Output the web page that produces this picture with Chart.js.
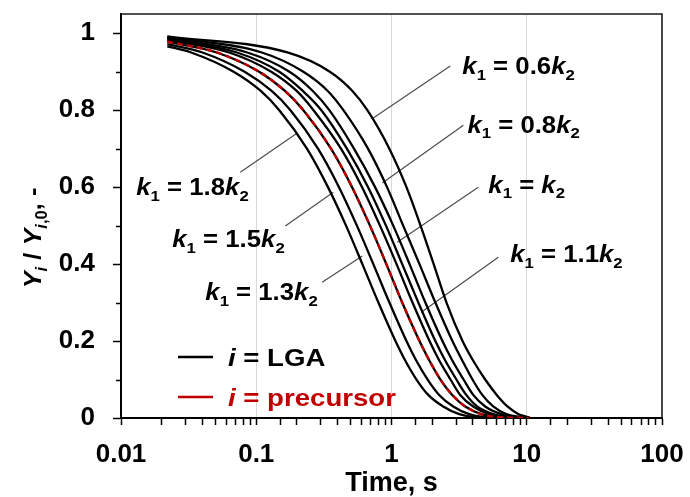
<!DOCTYPE html>
<html>
<head>
<meta charset="utf-8">
<script src="https://cdn.jsdelivr.net/npm/chart.js@4.4.1/dist/chart.umd.min.js"></script>
<style>
  html, body { margin: 0; padding: 0; background: #ffffff; }
  #wrap { width: 690px; height: 497px; }
</style>
</head>
<body>
<div id="wrap"><canvas id="chart" width="690" height="497"></canvas></div>
<script>
// Normalised remaining fraction Y_i / Y_i,0 against residence time (log scale).
// Each curve is stored as the times at which it passes the shared fraction levels,
// plus its value at the first sampled time and the final time where it reaches zero.
const levels = [0.95, 0.9, 0.85, 0.8, 0.7, 0.6, 0.5, 0.4, 0.3, 0.2, 0.15, 0.1, 0.06, 0.03, 0.01, 0.003];
const firstTime = 0.022;
const lastTime = 10.5;

// LGA curves, fastest decay first
const lgaFast1Times = [0.033, 0.068, 0.108, 0.148, 0.237, 0.339, 0.461, 0.609, 0.800, 1.07, 1.26, 1.53, 1.87, 2.41, 3.17, 4.00];
const lgaFast2Times = [0.040, 0.082, 0.130, 0.179, 0.286, 0.409, 0.555, 0.734, 0.965, 1.29, 1.52, 1.85, 2.25, 2.86, 3.75, 4.73];
const lgaBaseTimes  = [0.051, 0.105, 0.163, 0.223, 0.357, 0.511, 0.693, 0.916, 1.20, 1.61, 1.90, 2.30, 2.81, 3.51, 4.61, 5.81];
const lgaSlow1Times = [0.063, 0.129, 0.199, 0.265, 0.423, 0.606, 0.822, 1.09, 1.43, 1.91, 2.25, 2.73, 3.22, 4.02, 5.28, 6.66];
const lgaSlow2Times = [0.072, 0.148, 0.221, 0.303, 0.468, 0.671, 0.910, 1.20, 1.58, 2.11, 2.49, 3.02, 3.57, 4.30, 5.65, 7.13];
const lgaSlow3Times = [0.086, 0.176, 0.262, 0.347, 0.528, 0.756, 1.03, 1.36, 1.78, 2.38, 2.81, 3.41, 4.02, 4.93, 6.47, 8.17];
const lgaSlow4Times = [0.110, 0.223, 0.338, 0.441, 0.670, 0.927, 1.22, 1.61, 2.11, 2.82, 3.33, 3.97, 4.69, 5.65, 7.05, 8.89];
const lgaSlow5Times = [0.170, 0.350, 0.514, 0.663, 0.964, 1.29, 1.64, 2.05, 2.55, 3.35, 4.00, 4.93, 6.00, 7.20, 8.70, 10.0];
const lgaStartValues = [0.966, 0.972, 0.978, 0.982, 0.985, 0.987, 0.990, 0.992];

// Precursor curve
const precursorTimes = [0.051, 0.105, 0.163, 0.223, 0.357, 0.511, 0.693, 0.916, 1.20, 1.61, 1.90, 2.30, 2.81, 3.51, 4.61, 5.81];
const precursorStartValue = 0.978;

// Axis labels
const xTickLabels = ['0.01', '0.1', '1', '10', '100'];
const yTickLabels = ['0', '0.2', '0.4', '0.6', '0.8', '1'];
const yMinorTicks = [0.1, 0.3, 0.5, 0.7, 0.9];
const seriesNames = ['LGA', 'precursor'];

// Ratio notes: label anchor, leader start and leader end, all in (time, fraction)
const ratioNotes = [
  { coef: '0.6', at: [3.34, 0.894], from: [2.72, 0.915], to: [0.733, 0.780] },
  { coef: '0.8', at: [3.64, 0.741], from: [3.40, 0.761], to: [0.855, 0.611] },
  { coef: '',    at: [5.20, 0.585], from: [4.38, 0.600], to: [1.104, 0.457] },
  { coef: '1.1', at: [7.55, 0.405], from: [6.16, 0.418], to: [1.661, 0.275] },
  { coef: '1.8', at: [0.01297, 0.579], from: [0.0762, 0.639], to: [0.2012, 0.741] },
  { coef: '1.5', at: [0.02394, 0.444], from: [0.164, 0.499], to: [0.3713, 0.587] },
  { coef: '1.3', at: [0.04201, 0.306], from: [0.307, 0.353], to: [0.6082, 0.421] }
];

const FONT = "'Liberation Sans', Arial, sans-serif";
const BLACK = '#000000';
const RED = '#C00000';

function curvePoints(times, startValue) {
  const pts = [{ x: firstTime, y: startValue }];
  times.forEach((t, i) => pts.push({ x: t, y: levels[i] }));
  pts.push({ x: lastTime, y: 0 });
  return pts;
}

const lgaSeries = [lgaFast1Times, lgaFast2Times, lgaBaseTimes, lgaSlow1Times,
                   lgaSlow2Times, lgaSlow3Times, lgaSlow4Times, lgaSlow5Times];

const datasets = lgaSeries.map((times, i) => ({
  label: seriesNames[0],
  data: curvePoints(times, lgaStartValues[i]),
  borderColor: BLACK,
  borderWidth: 2.3,
  pointRadius: 0,
  cubicInterpolationMode: 'monotone',
  order: 2
}));
datasets.push({
  label: seriesNames[1],
  data: curvePoints(precursorTimes, precursorStartValue),
  borderColor: RED,
  borderWidth: 2.4,
  borderDash: [6, 4],
  pointRadius: 0,
  cubicInterpolationMode: 'monotone',
  order: 1
});

function isDecade(v) {
  const e = Math.log10(v);
  return Math.abs(e - Math.round(e)) < 1e-6;
}

// Text made of plain, italic and subscript pieces, drawn left to right
function textWidth(ctx, runs, size) {
  let w = 0;
  for (const r of runs) {
    const s = r.sub ? size * 0.65 : size;
    ctx.font = (r.italic ? 'italic ' : '') + 'bold ' + s + 'px ' + FONT;
    w += ctx.measureText(r.text).width;
  }
  return w;
}
function drawRuns(ctx, runs, size, color) {
  let cx = 0;
  ctx.fillStyle = color;
  ctx.textBaseline = 'alphabetic';
  ctx.textAlign = 'left';
  for (const r of runs) {
    const s = r.sub ? size * 0.65 : size;
    ctx.font = (r.italic ? 'italic ' : '') + 'bold ' + s + 'px ' + FONT;
    ctx.fillText(r.text, cx, r.sub ? size * 0.24 : 0);
    cx += ctx.measureText(r.text).width;
  }
}
function noteRuns(coef) {
  return [
    { text: 'k', italic: true }, { text: '1', sub: true },
    { text: ' = ' + coef },
    { text: 'k', italic: true }, { text: '2', sub: true }
  ];
}

const decorPlugin = {
  id: 'decor',
  beforeDatasetsDraw(chart) {
    const { ctx, scales: { x, y } } = chart;
    // leader lines sit under the curves
    ctx.save();
    ctx.strokeStyle = '#4d4d4d';
    ctx.lineWidth = 1.2;
    for (const n of ratioNotes) {
      ctx.beginPath();
      ctx.moveTo(x.getPixelForValue(n.from[0]), y.getPixelForValue(n.from[1]));
      ctx.lineTo(x.getPixelForValue(n.to[0]), y.getPixelForValue(n.to[1]));
      ctx.stroke();
    }
    ctx.restore();
  },
  afterDraw(chart) {
    const { ctx, chartArea: a, scales: { x, y } } = chart;
    ctx.save();

    // box frame on the top and right
    ctx.strokeStyle = '#1a1a1a';
    ctx.lineWidth = 1.6;
    ctx.beginPath();
    ctx.moveTo(a.left, a.top);
    ctx.lineTo(a.right, a.top);
    ctx.lineTo(a.right, a.bottom);
    ctx.stroke();

    // minor ticks on the value axis
    ctx.strokeStyle = BLACK;
    ctx.lineWidth = 1.5;
    for (const v of yMinorTicks) {
      const py = Math.round(y.getPixelForValue(v)) + 0.5;
      ctx.beginPath();
      ctx.moveTo(a.left - 5, py);
      ctx.lineTo(a.left, py);
      ctx.stroke();
    }

    // ratio labels
    for (const n of ratioNotes) {
      ctx.save();
      ctx.translate(x.getPixelForValue(n.at[0]), y.getPixelForValue(n.at[1]));
      ctx.scale(1.12, 1);
      drawRuns(ctx, noteRuns(n.coef), 23, BLACK);
      ctx.restore();
    }

    // legend
    const legendItems = [
      { name: seriesNames[0], color: BLACK, yPix: 357 },
      { name: seriesNames[1], color: RED, yPix: 397 }
    ];
    for (const item of legendItems) {
      ctx.strokeStyle = item.color;
      ctx.lineWidth = 2.5;
      ctx.beginPath();
      ctx.moveTo(178, item.yPix);
      ctx.lineTo(213, item.yPix);
      ctx.stroke();
      ctx.save();
      ctx.translate(228, item.yPix + 8.5);
      ctx.scale(1.15, 1);
      drawRuns(ctx, [{ text: 'i', italic: true }, { text: ' = ' + item.name }], 24, item.color);
      ctx.restore();
    }

    // value axis title: Y_i / Y_i,0, -
    const titleRuns = [
      { text: 'Y', italic: true }, { text: 'i', italic: true, sub: true },
      { text: ' / ' },
      { text: 'Y', italic: true }, { text: 'i', italic: true, sub: true }, { text: ',0', sub: true },
      { text: ', -' }
    ];
    const tsize = 24;
    const tw = textWidth(ctx, titleRuns, tsize) * 1.06;
    ctx.save();
    ctx.translate(41, 238 + tw / 2);
    ctx.rotate(-Math.PI / 2);
    ctx.scale(1.06, 1);
    drawRuns(ctx, titleRuns, tsize, BLACK);
    ctx.restore();

    ctx.restore();
  }
};

Chart.defaults.font.family = FONT;

new Chart(document.getElementById('chart'), {
  type: 'line',
  data: { datasets },
  options: {
    responsive: false,
    animation: false,
    devicePixelRatio: 1,
    layout: { padding: { top: 14, right: 28, left: 0, bottom: 0 } },
    plugins: { legend: { display: false }, tooltip: { enabled: false } },
    elements: { line: { tension: 0 } },
    scales: {
      x: {
        type: 'logarithmic',
        min: 0.01,
        max: 100,
        afterFit(s) { s.height = 79; s.paddingLeft = 0; s.paddingRight = 0; },
        border: { display: true, color: BLACK, width: 2 },
        grid: {
          color: c => (c.tick && isDecade(c.tick.value) && c.tick.value > 0.011 && c.tick.value < 99)
            ? '#d9d9d9' : 'rgba(0,0,0,0)',
          lineWidth: 1,
          drawOnChartArea: true,
          drawTicks: true,
          tickLength: 7,
          tickColor: BLACK,
          tickWidth: 1.5
        },
        ticks: {
          autoSkip: false,
          maxRotation: 0,
          minRotation: 0,
          padding: 14,
          color: BLACK,
          font: { size: 26, weight: 'bold' },
          callback: v => isDecade(v) ? xTickLabels[Math.round(Math.log10(v)) + 2] : ''
        },
        title: {
          display: true,
          text: 'Time, s',
          color: BLACK,
          font: { size: 27, weight: 'bold' },
          padding: { top: 0, bottom: -3 }
        }
      },
      y: {
        min: 0,
        max: 1.05,
        afterFit(s) { s.width = 121; s.paddingTop = 0; s.paddingBottom = 0; },
        border: { display: true, color: BLACK, width: 2 },
        grid: { drawOnChartArea: false, tickLength: 8, tickColor: BLACK, tickWidth: 1.5 },
        ticks: {
          stepSize: 0.2,
          includeBounds: false,
          padding: 18,
          color: BLACK,
          font: { size: 26, weight: 'bold' },
          callback: v => yTickLabels[Math.round(v / 0.2)]
        }
      }
    }
  },
  plugins: [decorPlugin]
});
</script>
</body>
</html>
